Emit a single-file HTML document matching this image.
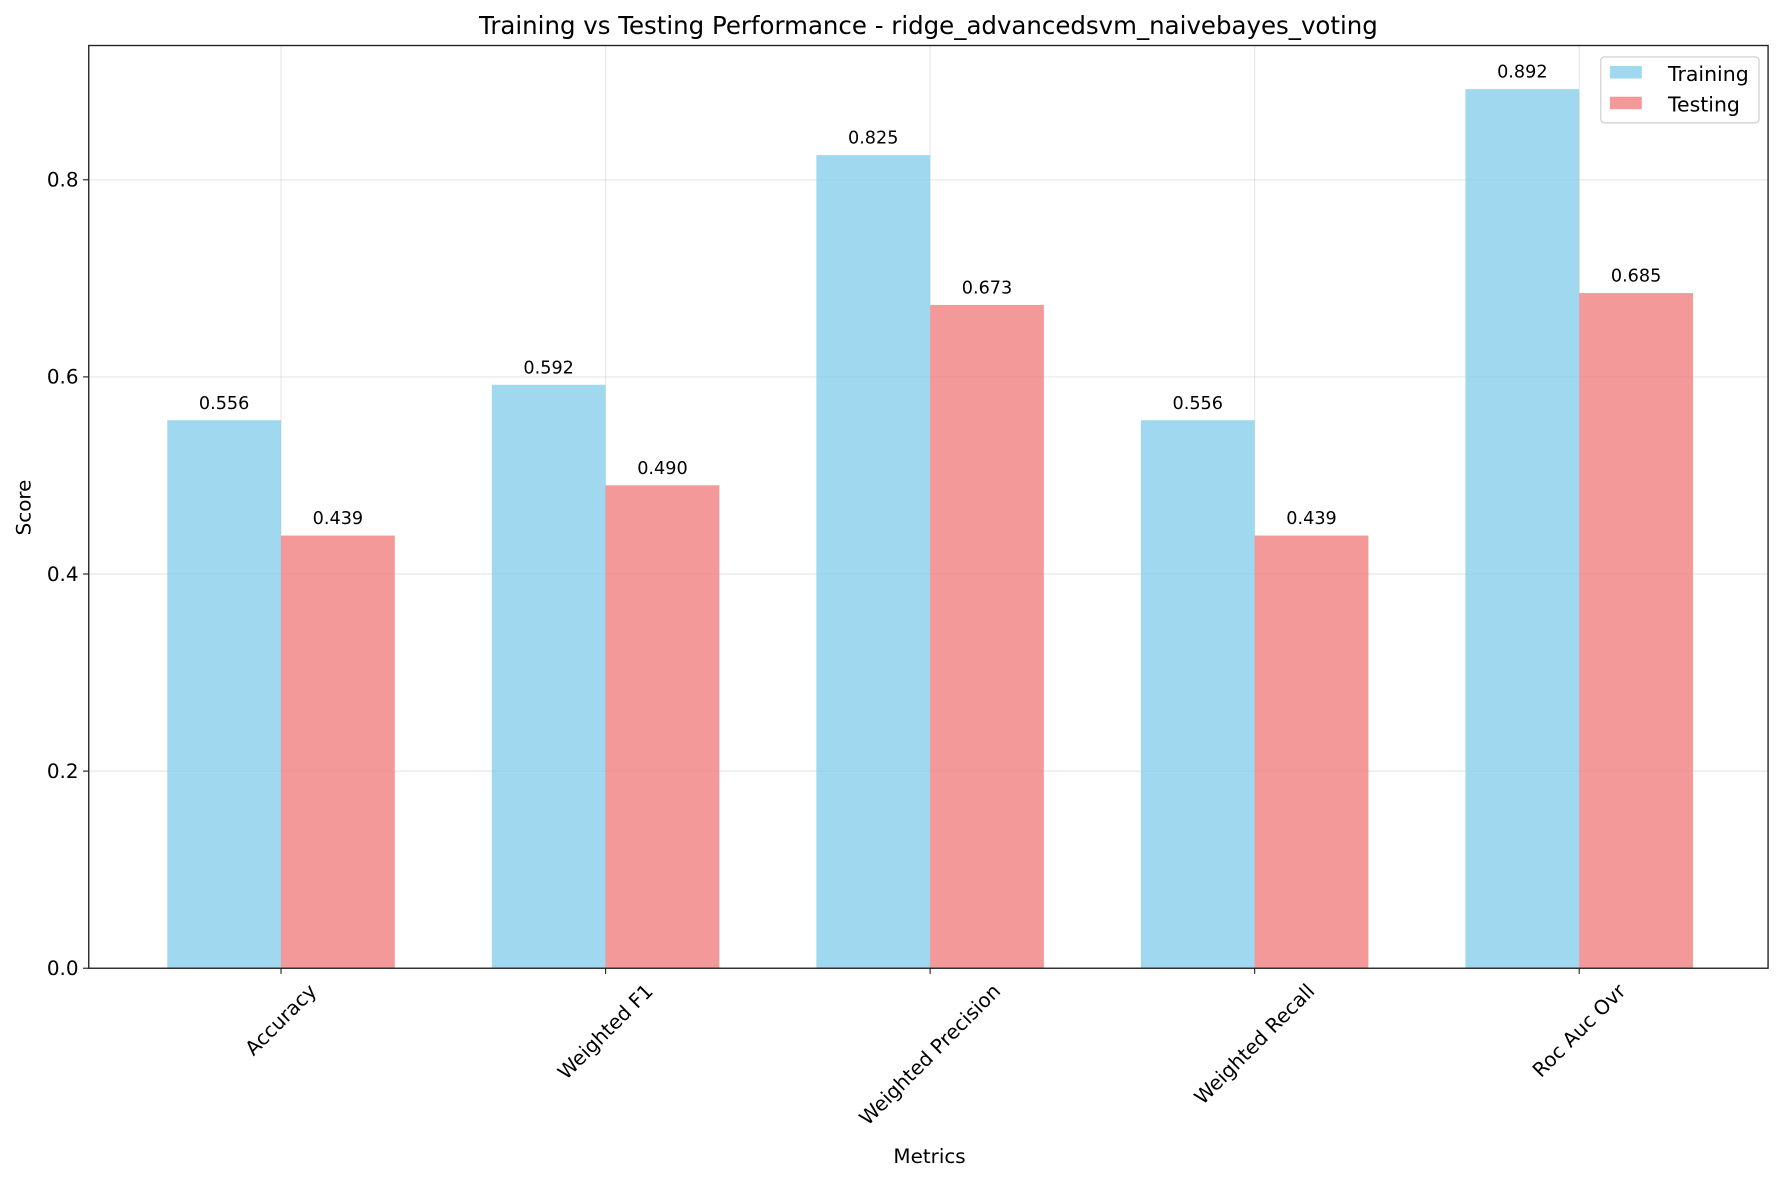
<!DOCTYPE html>
<html><head><meta charset="utf-8"><style>
body{margin:0;background:#fff}
svg{display:block}
svg text{font-family:"DejaVu Sans","Liberation Sans",sans-serif;fill:#000}
</style></head><body>
<svg id="chart" width="1784" height="1181" viewBox="0 0 1568 1038" preserveAspectRatio="none" xmlns="http://www.w3.org/2000/svg">
<rect width="1568" height="1038" fill="#fff"/>
<text x="816" y="30" font-size="21.5" text-anchor="middle">Training vs Testing Performance - ridge_advancedsvm_naivebayes_voting</text>
<g id="grid"></g>
<g id="bars"></g>
<rect x="78" y="40" width="1476" height="811" fill="none" stroke="#222" stroke-width="1.2"/>
<g id="axes"></g>
<text x="817" y="1022" font-size="17.5" text-anchor="middle">Metrics</text>
<text x="27" y="446" font-size="17.5" text-anchor="middle" transform="rotate(-90 27 446)">Score</text>
<g>
<rect x="1407" y="50" width="139" height="58" rx="3" fill="#fff" fill-opacity="0.8" stroke="#ccc"/>
<rect x="1415" y="58" width="28" height="11" fill="#87ceeb" fill-opacity="0.8"/>
<text x="1466" y="71" font-size="18">Training</text>
<rect x="1415" y="85" width="28" height="11" fill="#f08080" fill-opacity="0.8"/>
<text x="1466" y="98" font-size="18">Testing</text>
</g>
</svg>
<script>
const categories=["Accuracy","Weighted F1","Weighted Precision","Weighted Recall","Roc Auc Ovr"];
const training=[0.556,0.592,0.825,0.556,0.892];
const testing=[0.439,0.490,0.673,0.439,0.685];
const yTicks=[0.0,0.2,0.4,0.6,0.8];
const NS="http://www.w3.org/2000/svg";
const y0=851, pxPer=866.25;
const yS=v=>y0-v*pxPer;
const xC=i=>247+285.25*i;
const bw=100;
function mk(t,a,p){const e=document.createElementNS(NS,t);for(const k in a)e.setAttribute(k,a[k]);p.appendChild(e);return e;}
const grid=document.getElementById('grid'),bars=document.getElementById('bars'),axes=document.getElementById('axes');
yTicks.forEach(v=>{
 const g=mk('line',{x1:78,x2:1554,y1:yS(v),y2:yS(v),stroke:'#b0b0b0','stroke-opacity':0.3},grid);
 
 
 const t=mk('line',{x1:73,x2:78,y1:yS(v),y2:yS(v),stroke:'#222'},axes);
 
 
 const l=mk('text',{x:69,y:yS(v)+6,'font-size':17.5,'text-anchor':'end'},axes);
 l.textContent=v.toFixed(1);
 
 
});
const FS=17.5;
categories.forEach((c,i)=>{
 const x=xC(i);
 const g=mk('line',{x1:x,x2:x,y1:40,y2:851,stroke:'#b0b0b0','stroke-opacity':0.3},grid);
 
 
 [[training[i],x-bw,'#87ceeb','training'],[testing[i],x,'#f08080','testing']].forEach(([v,bx,col,nm])=>{
  const r=mk('rect',{x:bx,y:yS(v),width:bw,height:y0-yS(v),fill:col,'fill-opacity':0.8},bars);
  
  
  const t=mk('text',{x:bx+bw/2,y:yS(v)-10,'font-size':15.5,'text-anchor':'middle'},bars);
  t.textContent=v.toFixed(3);
  
  
 });
 const tk=mk('line',{x1:x,x2:x,y1:851,y2:856,stroke:'#222'},axes);
 
 
 const l=mk('text',{x:x,y:0,'font-size':FS,'text-anchor':'middle','dominant-baseline':'central'},axes);
 l.textContent=c;
 
 
 const L=l.getComputedTextLength();
 const yc=862+(L+FS)*0.7071/2;
 l.setAttribute('y',yc);
 l.setAttribute('transform',`rotate(-45 ${x} ${yc})`);
});
</script>
</body></html>
